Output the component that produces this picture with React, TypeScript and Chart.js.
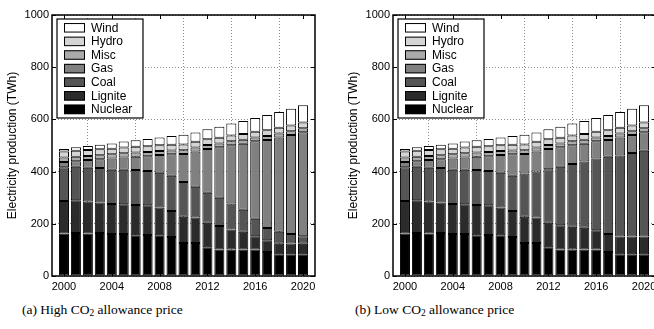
import React, { useEffect, useRef } from 'react';
import { Chart, registerables } from 'chart.js';

Chart.register(...registerables);

const years = [2000, 2001, 2002, 2003, 2004, 2005, 2006, 2007, 2008, 2009, 2010, 2011, 2012, 2013, 2014, 2015, 2016, 2017, 2018, 2019, 2020];
const xTickValues = [2000, 2004, 2008, 2012, 2016, 2020];
const yTickValues = [0, 200, 400, 600, 800, 1000];
const seriesNames = ['Nuclear', 'Lignite', 'Coal', 'Gas', 'Misc', 'Hydro', 'Wind'];
const seriesColors = ['#000000', '#2b2b2b', '#555555', '#808080', '#aaaaaa', '#d5d5d5', '#ffffff'];
const yAxisTitle = 'Electricity production (TWh)';

// (a) High CO2 allowance price
const highNuclear = [163, 165, 163, 165, 161, 161, 156, 157, 156, 149, 126, 126, 110, 102, 102, 102, 102, 92, 83, 83, 83];
const highLignite = [124, 125, 122, 117, 115, 114, 116, 114, 106, 100, 101, 98, 94, 90, 76, 68, 50, 45, 41, 42, 41];
const highCoal = [130, 129, 130, 132, 131, 132, 134, 131, 134, 135, 133, 118, 115, 108, 100, 84, 67, 47, 46, 36, 28];
const highGas = [20, 21, 29, 33, 43, 47, 51, 57, 68, 82, 107, 135, 168, 193, 223, 253, 297, 337, 361, 379, 399];
const highMisc = [17, 17, 16, 16, 16, 16, 16, 16, 15, 15, 15, 15, 15, 15, 15, 15, 15, 15, 15, 15, 15];
const highHydro = [23, 23, 23, 23, 22, 22, 22, 22, 22, 22, 22, 22, 22, 22, 22, 22, 22, 22, 22, 22, 22];
const highWind = [10, 13, 15, 17, 20, 23, 25, 28, 30, 33, 37, 36, 38, 42, 46, 50, 52, 59, 60, 64, 66];

// (b) Low CO2 allowance price
const lowNuclear = [163, 165, 163, 165, 161, 161, 156, 157, 156, 149, 126, 126, 110, 102, 102, 102, 102, 92, 83, 83, 83];
const lowLignite = [124, 125, 122, 117, 115, 114, 116, 114, 106, 100, 101, 98, 94, 92, 87, 83, 73, 69, 68, 68, 68];
const lowCoal = [130, 129, 130, 132, 131, 132, 134, 131, 134, 135, 166, 176, 205, 225, 240, 254, 275, 296, 311, 320, 329];
const lowGas = [20, 21, 29, 33, 43, 47, 51, 57, 68, 82, 74, 77, 78, 74, 72, 68, 66, 64, 69, 69, 71];
const lowMisc = [17, 17, 16, 16, 16, 16, 16, 16, 15, 15, 15, 15, 15, 15, 15, 15, 15, 15, 15, 15, 15];
const lowHydro = [23, 23, 23, 23, 22, 22, 22, 22, 22, 22, 22, 22, 22, 22, 22, 22, 22, 22, 22, 22, 22];
const lowWind = [10, 13, 15, 17, 20, 23, 25, 28, 30, 33, 37, 36, 38, 42, 46, 50, 52, 59, 60, 64, 66];

const highSeries = [highNuclear, highLignite, highCoal, highGas, highMisc, highHydro, highWind];
const lowSeries = [lowNuclear, lowLignite, lowCoal, lowGas, lowMisc, lowHydro, lowWind];

const FONT = '"Liberation Sans", Arial, Helvetica, sans-serif';

const framePlugin = {
  id: 'matlabFrame',
  afterDatasetsDraw(chart: any) {
    const { ctx, chartArea: a, scales } = chart;
    ctx.save();
    ctx.strokeStyle = '#000';
    ctx.lineWidth = 1.5;
    ctx.strokeRect(a.left, a.top, a.right - a.left, a.bottom - a.top);
    ctx.lineWidth = 1;
    const L = 4;
    ctx.beginPath();
    scales.x.ticks.forEach((t: any) => {
      const px = Math.round(scales.x.getPixelForValue(t.value)) + 0.5;
      ctx.moveTo(px, a.bottom);
      ctx.lineTo(px, a.bottom - L);
      ctx.moveTo(px, a.top);
      ctx.lineTo(px, a.top + L);
    });
    scales.y.ticks.forEach((t: any) => {
      const py = Math.round(scales.y.getPixelForValue(t.value)) + 0.5;
      ctx.moveTo(a.left, py);
      ctx.lineTo(a.left + L, py);
      ctx.moveTo(a.right, py);
      ctx.lineTo(a.right - L, py);
    });
    ctx.stroke();
    ctx.restore();
  },
};

const legendPlugin = {
  id: 'boxLegend',
  afterDraw(chart: any) {
    const { ctx, chartArea: a } = chart;
    const ds = chart.data.datasets.slice().reverse();
    const x0 = a.left + 5;
    const y0 = a.top + 4;
    const w = 86;
    const h = 99;
    const rowH = 13.6;
    ctx.save();
    ctx.fillStyle = '#fff';
    ctx.fillRect(x0, y0, w, h);
    ctx.strokeStyle = '#000';
    ctx.lineWidth = 1.2;
    ctx.strokeRect(x0, y0, w, h);
    ctx.font = '12px ' + FONT;
    ctx.textBaseline = 'middle';
    ctx.textAlign = 'left';
    ds.forEach((d: any, i: number) => {
      const cy = y0 + 8.8 + i * rowH;
      ctx.fillStyle = d.backgroundColor;
      ctx.fillRect(x0 + 7, cy - 4.75, 21, 9.5);
      ctx.lineWidth = 1;
      ctx.strokeStyle = '#000';
      ctx.strokeRect(x0 + 7.5, cy - 4.25, 20, 8.5);
      ctx.fillStyle = '#000';
      ctx.fillText(d.label, x0 + 34, cy + 0.5);
    });
    ctx.restore();
  },
};

function StackedChart({ series }: { series: number[][] }) {
  const ref = useRef<HTMLCanvasElement | null>(null);
  useEffect(() => {
    if (!ref.current) return;
    const datasets = series.map((vals, i) => ({
      label: seriesNames[i],
      data: years.map((y, j) => ({ x: y, y: vals[j] })),
      backgroundColor: seriesColors[i],
      borderColor: '#000',
      borderWidth: 1,
      borderSkipped: false as any,
      barPercentage: 0.84,
      categoryPercentage: 1,
    }));
    const chart = new Chart(ref.current, {
      type: 'bar',
      data: { datasets },
      plugins: [framePlugin, legendPlugin],
      options: {
        animation: false,
        responsive: false,
        devicePixelRatio: 1,
        layout: { padding: { left: 0, right: 12, top: 15, bottom: 0 } },
        plugins: { legend: { display: false }, tooltip: { enabled: false } },
        scales: {
          x: {
            type: 'linear',
            stacked: true,
            min: 1999,
            max: 2021,
            offset: false,
            afterBuildTicks: (s: any) => {
              s.ticks = xTickValues.map((v) => ({ value: v }));
            },
            afterFit: (s: any) => {
              s.height = 24;
            },
            ticks: {
              autoSkip: false,
              maxRotation: 0,
              padding: 4,
              color: '#000',
              font: { family: FONT, size: 11 },
              callback: (v: any) => String(v),
            },
            grid: { drawTicks: false, color: '#8a8a8a', lineWidth: 1 },
            border: { display: false, dash: [1, 2] },
          },
          y: {
            type: 'linear',
            stacked: true,
            min: 0,
            max: 1000,
            afterBuildTicks: (s: any) => {
              s.ticks = yTickValues.map((v) => ({ value: v }));
            },
            afterFit: (s: any) => {
              s.width = 52;
            },
            ticks: {
              padding: 3,
              color: '#000',
              font: { family: FONT, size: 11 },
              callback: (v: any) => String(v),
            },
            grid: { drawTicks: false, color: '#8a8a8a', lineWidth: 1 },
            border: { display: false, dash: [1, 2] },
            title: {
              display: true,
              text: yAxisTitle,
              color: '#000',
              font: { family: FONT, size: 12 },
              padding: { top: 5, bottom: 0 },
            },
          },
        },
      },
    } as any);
    return () => chart.destroy();
  }, [series]);
  return <canvas ref={ref} width={327} height={300} style={{ display: 'block' }} />;
}

const captionStyle: React.CSSProperties = {
  position: 'absolute',
  top: 301,
  fontFamily: '"Liberation Serif", "Times New Roman", serif',
  fontSize: 13.5,
  lineHeight: '17px',
  whiteSpace: 'nowrap',
  color: '#000',
};

export default function App() {
  return (
    <div style={{ position: 'absolute', left: 0, top: 0, width: 654, height: 329, overflow: 'hidden', background: '#fff' }}>
      <div style={{ position: 'absolute', left: 0, top: 0, width: 327, height: 300 }}>
        <StackedChart series={highSeries} />
      </div>
      <div style={{ position: 'absolute', left: 341, top: 0, width: 327, height: 300 }}>
        <StackedChart series={lowSeries} />
      </div>
      <div style={{ ...captionStyle, left: 22 }}>
        (a) High CO<sub style={{ fontSize: '0.7em', verticalAlign: '-0.25em', lineHeight: 0 }}>2</sub> allowance price
      </div>
      <div style={{ ...captionStyle, left: 355 }}>
        (b) Low CO<sub style={{ fontSize: '0.7em', verticalAlign: '-0.25em', lineHeight: 0 }}>2</sub> allowance price
      </div>
    </div>
  );
}
